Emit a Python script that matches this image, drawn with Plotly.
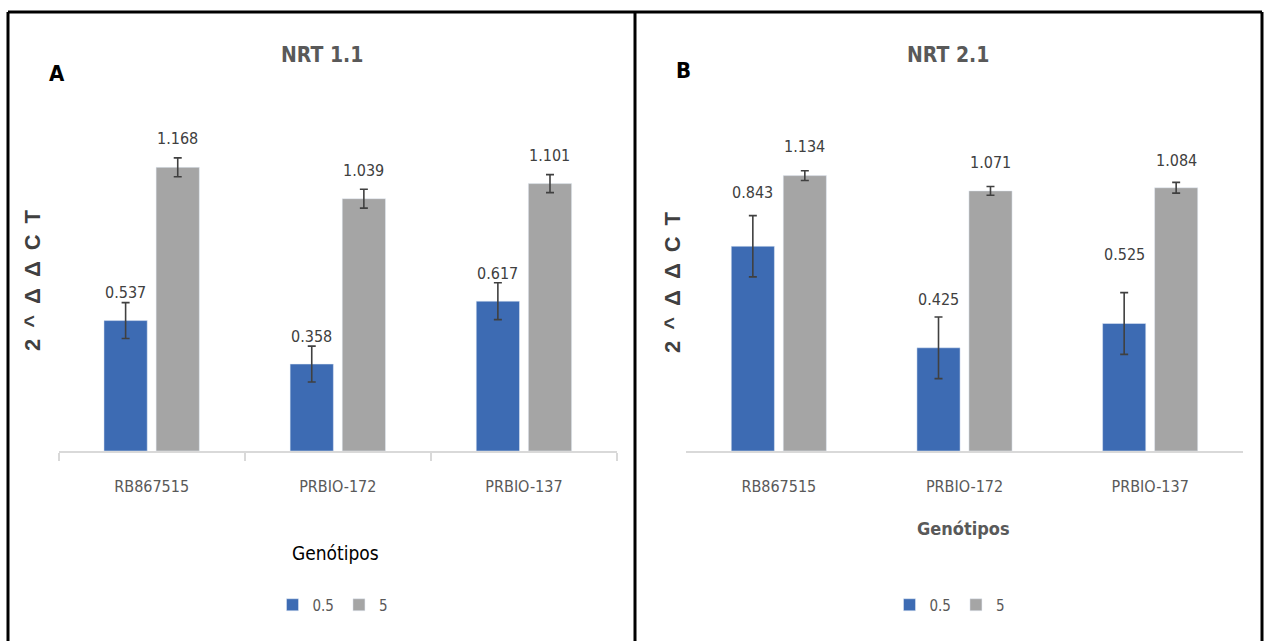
import plotly.graph_objects as go

genotypes = ["RB867515", "PRBIO-172", "PRBIO-137"]
series_names = ["0.5", "5"]

# Panel A - NRT 1.1
a_low = [0.537, 0.358, 0.617]
a_high = [1.168, 1.039, 1.101]
a_low_err = [0.074, 0.074, 0.076]
a_high_err = [0.039, 0.039, 0.037]

# Panel B - NRT 2.1
b_low = [0.843, 0.425, 0.525]
b_high = [1.134, 1.071, 1.084]
b_low_err = [0.126, 0.127, 0.127]
b_high_err = [0.020, 0.018, 0.022]

# label vertical offsets (px above bar top)
a_low_shift = [28, 28, 28]
a_high_shift = [29, 28, 28]
b_low_shift = [54, 48, 69]
b_high_shift = [29, 28, 27]

BLUE = "#3D6BB3"
GRAY = "#A5A5A5"
ERR = "#404040"
NARROW = "DejaVu Sans Condensed, Liberation Sans Narrow, sans-serif"
W, H = 1265, 641

fig = go.Figure()

def add_panel(low, high, lerr, herr, xa, ya, leg):
    fig.add_trace(go.Bar(x=genotypes, y=low, name=series_names[0], marker_color=BLUE,
                         error_y=dict(type="data", array=lerr, color=ERR, thickness=1.6, width=4),
                         xaxis=xa, yaxis=ya, legend=leg, offsetgroup="a"))
    fig.add_trace(go.Bar(x=genotypes, y=high, name=series_names[1], marker_color=GRAY,
                         error_y=dict(type="data", array=herr, color=ERR, thickness=1.6, width=4),
                         xaxis=xa, yaxis=ya, legend=leg, offsetgroup="b"))

add_panel(a_low, a_high, a_low_err, a_high_err, "x", "y", "legend")
add_panel(b_low, b_high, b_low_err, b_high_err, "x2", "y2", "legend2")

annotations = []
LABEL_FONT = dict(family=NARROW, size=16, color="#404040")
def add_labels(low, high, ls, hs, xr, yr):
    for g, v, s in zip(genotypes, low, ls):
        annotations.append(dict(x=g, y=v, xref=xr, yref=yr, text=f"{v:.3f}", showarrow=False,
                                xshift=-26, yshift=s, font=LABEL_FONT))
    for g, v, s in zip(genotypes, high, hs):
        annotations.append(dict(x=g, y=v, xref=xr, yref=yr, text=f"{v:.3f}", showarrow=False,
                                xshift=26, yshift=s, font=LABEL_FONT))

add_labels(a_low, a_high, a_low_shift, a_high_shift, "x", "y")
add_labels(b_low, b_high, b_low_shift, b_high_shift, "x2", "y2")

def px(x, y):
    return x / W, 1 - y / H

def text_at(x, y, text, font, **kw):
    xx, yy = px(x, y)
    annotations.append(dict(x=xx, y=yy, xref="paper", yref="paper", text=text, showarrow=False,
                            xanchor="center", yanchor="middle", font=font, **kw))

text_at(57, 73, "<b>A</b>", dict(family=NARROW, size=22, color="#000000"))
text_at(683, 70, "<b>B</b>", dict(family=NARROW, size=22, color="#000000"))
text_at(322, 55, "<b>NRT 1.1</b>", dict(family=NARROW, size=21, color="#595959"))
text_at(948, 55, "<b>NRT 2.1</b>", dict(family=NARROW, size=21, color="#595959"))
ytitle = "\u2002".join(list("2^\u0394\u0394CT"))
text_at(32, 280, "<b>" + ytitle + "</b>", dict(family="Liberation Sans, Arial", size=22, color="#404040"), textangle=-90)
text_at(672, 282, "<b>" + ytitle + "</b>", dict(family="Liberation Sans, Arial", size=22, color="#404040"), textangle=-90)
text_at(335, 553, "Genótipos", dict(family=NARROW, size=19, color="#000000"))
text_at(963, 528, "<b>Genótipos</b>", dict(family=NARROW, size=18, color="#595959"))

yr = [0, 1.4]
ydom = [(H - 451) / H, (H - 111) / H]
axis_common = dict(type="category", showgrid=False, zeroline=False, linecolor="#D9D9D9", linewidth=2,
                   tickfont=dict(family=NARROW, size=16, color="#595959"), range=[-0.5, 2.5],
                   ticklabelstandoff=20)

shapes = [
    dict(type="line", xref="paper", yref="paper", x0=8/W, x1=1262/W, y0=1-12/H, y1=1-12/H, line=dict(color="#000", width=3)),
    dict(type="line", xref="paper", yref="paper", x0=8/W, x1=8/W, y0=1-12/H, y1=0, line=dict(color="#000", width=3)),
    dict(type="line", xref="paper", yref="paper", x0=1262/W, x1=1262/W, y0=1-12/H, y1=0, line=dict(color="#000", width=3)),
    dict(type="line", xref="paper", yref="paper", x0=635/W, x1=635/W, y0=1-12/H, y1=0, line=dict(color="#000", width=3)),
]

fig.update_layout(
    width=W, height=H, margin=dict(l=0, r=0, t=0, b=0),
    paper_bgcolor="white", plot_bgcolor="white",
    barmode="group", bargap=0.44, bargroupgap=0.17,
    xaxis=dict(domain=[58.6/W, 617/W], anchor="y", ticks="outside", tickson="boundaries",
               ticklen=8, tickcolor="#D9D9D9", tickwidth=2, showline=True, **axis_common),
    xaxis2=dict(domain=[686/W, 1243/W], anchor="y2", ticks="", showline=True, **axis_common),
    yaxis=dict(domain=ydom, range=yr, visible=False, anchor="x"),
    yaxis2=dict(domain=ydom, range=yr, visible=False, anchor="x2"),
    legend=dict(orientation="h", x=333/W, y=(H-605)/H, xanchor="center", yanchor="middle",
                font=dict(family=NARROW, size=15, color="#595959"), itemwidth=30),
    legend2=dict(orientation="h", x=950/W, y=(H-605)/H, xanchor="center", yanchor="middle",
                 font=dict(family=NARROW, size=15, color="#595959"), itemwidth=30),
    annotations=annotations, shapes=shapes, showlegend=True,
)

fig.write_html("out.html", config={"displayModeBar": False},
               post_script="document.body.style.margin='0';document.body.style.overflow='hidden';")
